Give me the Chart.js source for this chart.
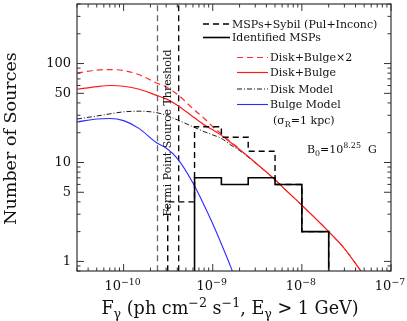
<!DOCTYPE html>
<html>
<head>
<meta charset="utf-8">
<script src="https://cdn.jsdelivr.net/npm/chart.js@4.4.0/dist/chart.umd.min.js"></script>
<style>
  html, body { margin: 0; padding: 0; background: #fff; }
  canvas { display: block; }
</style>
</head>
<body>
<canvas id="fluxChart" width="407" height="321"></canvas>
<script>
const fluxModel = [3e-11, 5e-11, 7e-11, 1e-10, 1.5e-10, 2.3e-10, 3e-10, 4e-10, 6e-10, 8e-10, 1e-9,
  1.25e-9, 1.6e-9, 2e-9, 3e-9, 5e-9, 7e-9, 1e-8, 2e-8, 3e-8, 4.5e-8, 6e-8];
const diskBulge2 = [80, 86, 87, 85, 77, 64, 58, 49, 35, 28, 23, 19.5, 16, 13.8,
  null, null, null, null, null, null, null, null];
const diskBulge = [55, 58.5, 60, 59, 55, 48, 44, 38, 29, 24, 21.4, 18.8, 15.8, 13.5, 10, 6.7, 5, 3.7, 2.0, 1.35, 0.82, 0.55];
const diskModel = [27.5, 29.5, 31, 32.5, 33, 32, 30, 27, 23, 20.5, 19, 17.5, 15, 13.2, 9.9, 6.7, 5, 3.7, 2.0, 1.35, 0.82, 0.55];
const bulgeModel = [25.7, 27.5, 27.8, 26.5, 22, 16, 14, 11, 6.2, 3.7, 2.4, 1.5, 0.87, 0.5,
  null, null, null, null, null, null, null, null];

// histograms
const binEdges = [3.125e-10, 6.25e-10, 1.25e-9, 2.5e-9, 5e-9, 1e-8, 2e-8];
const sybilCounts = [4, 23, 18, 13, 6, 2];
const identifiedCounts = [null, 7, 6, 7, 6, 2];

// threshold lines
const thresholdFlux = [2.4e-10, 4.15e-10];

// axes
const xTickExponents = [-10, -9, -8, -7];
const yTickValues = [1, 5, 10, 50, 100];

const FONT = '"DejaVu Serif", serif';
const floorY = 0.5;

function curve(vals) {
  return fluxModel.map((f, i) => ({ x: f, y: vals[i] }));
}

function stepData(edges, counts) {
  const pts = [];
  counts.forEach((c, i) => {
    if (c == null) return;
    if (!pts.length) pts.push({ x: edges[i], y: floorY });
    pts.push({ x: edges[i], y: c });
  });
  pts.push({ x: edges[edges.length - 1], y: floorY });
  return pts;
}

function vline(f) {
  return [{ x: f, y: floorY }, { x: f, y: 1000 }];
}

// text with super/subscripts: parts = [[text, mode]], mode 1 = sup, -1 = sub
function richText(ctx, parts, x, y, size, align) {
  const sz = m => (m ? size * 0.72 : size);
  let w = 0;
  parts.forEach(([t, m]) => {
    ctx.font = sz(m) + 'px ' + FONT;
    w += ctx.measureText(t).width;
  });
  let cx = align === 'center' ? x - w / 2 : align === 'right' ? x - w : x;
  ctx.textAlign = 'left';
  ctx.textBaseline = 'alphabetic';
  parts.forEach(([t, m]) => {
    ctx.font = sz(m) + 'px ' + FONT;
    const dy = m > 0 ? -size * 0.42 : m < 0 ? size * 0.25 : 0;
    ctx.fillText(t, cx, y + dy);
    cx += ctx.measureText(t).width;
  });
}

const decor = {
  id: 'decor',
  afterDraw(chart) {
    const { ctx, chartArea: a, scales: { x, y } } = chart;
    ctx.save();
    ctx.strokeStyle = '#333';
    ctx.fillStyle = '#111';
    ctx.lineWidth = 1.2;
    ctx.setLineDash([]);
    ctx.strokeRect(a.left, a.top, a.right - a.left, a.bottom - a.top);

    const seg = (x0, y0, x1, y1) => { ctx.beginPath(); ctx.moveTo(x0, y0); ctx.lineTo(x1, y1); ctx.stroke(); };
    ctx.lineWidth = 1;
    // x ticks, bottom and top
    for (let e = -11; e <= -7; e++) {
      for (let m = 1; m <= 9; m++) {
        const v = m * Math.pow(10, e);
        if (v < x.min * 0.999 || v > x.max * 1.001) continue;
        const px = x.getPixelForValue(v);
        const len = m === 1 ? 7 : 3.5;
        seg(px, a.bottom, px, a.bottom - len);
        seg(px, a.top, px, a.top + len);
      }
    }
    // y ticks, left and right
    for (let e = -1; e <= 2; e++) {
      for (let m = 1; m <= 9; m++) {
        const v = m * Math.pow(10, e);
        if (v < y.min || v > y.max) continue;
        const py = y.getPixelForValue(v);
        const len = (m === 1 || m === 5) ? 7 : 3.5;
        seg(a.left, py, a.left + len, py);
        seg(a.right, py, a.right - len, py);
      }
    }

    // tick labels
    xTickExponents.forEach(e => {
      const px = x.getPixelForValue(Math.pow(10, e));
      richText(ctx, [['10', 0], ['\u2212' + Math.abs(e), 1]], px - 1, a.bottom + 19, 13, 'center');
    });
    ctx.font = '13px ' + FONT;
    ctx.textAlign = 'right';
    ctx.textBaseline = 'middle';
    yTickValues.forEach(v => ctx.fillText(String(v), a.left - 6, y.getPixelForValue(v)));

    // axis titles
    richText(ctx, [['F', 0], ['\u03b3', -1], [' (ph cm', 0], ['\u22122', 1], [' s', 0], ['\u22121', 1],
      [', E', 0], ['\u03b3', -1], [' > 1 GeV)', 0]], 230, 314, 17.6, 'center');
    ctx.save();
    ctx.translate(16, (a.top + a.bottom) / 2 + 1);
    ctx.rotate(-Math.PI / 2);
    ctx.font = '17.5px ' + FONT;
    ctx.textAlign = 'center';
    ctx.textBaseline = 'alphabetic';
    ctx.fillText('Number of Sources', 0, 0);
    ctx.restore();

    // threshold label
    ctx.save();
    ctx.translate(168.5, 133);
    ctx.rotate(-Math.PI / 2);
    ctx.font = '11px ' + FONT;
    ctx.textAlign = 'center';
    ctx.textBaseline = 'middle';
    ctx.fillText('Fermi Point Source Threshold', 0, 0);
    ctx.restore();

    // legend
    const rows = [
      { ds: 1, x0: 203, x1: 230, y: 24 },
      { ds: 0, x0: 203, x1: 230, y: 37.5 },
      { ds: 2, x0: 237, x1: 268, y: 57.5 },
      { ds: 3, x0: 237, x1: 268, y: 72.5 },
      { ds: 4, x0: 237, x1: 268, y: 89 },
      { ds: 5, x0: 237, x1: 268, y: 104.5 }
    ];
    rows.forEach(r => {
      const d = chart.data.datasets[r.ds];
      ctx.strokeStyle = d.borderColor;
      ctx.lineWidth = d.borderWidth;
      ctx.setLineDash(d.borderDash || []);
      seg(r.x0, r.y, r.x1, r.y);
      ctx.setLineDash([]);
      ctx.font = '11px ' + FONT;
      ctx.textAlign = 'left';
      ctx.textBaseline = 'middle';
      ctx.fillText(d.label, r.x1 + 2, r.y + 1);
    });
    richText(ctx, [['(\u03c3', 0], ['R', -1], ['=1 kpc)', 0]], 273, 124, 11, 'left');
    richText(ctx, [['B', 0], ['0', -1], ['=10', 0], ['8.25', 1], ['  G', 0]], 307, 153, 11, 'left');
    ctx.restore();
  }
};

new Chart(document.getElementById('fluxChart'), {
  type: 'scatter',
  data: {
    datasets: [
      {
        label: 'Identified MSPs',
        data: stepData(binEdges, identifiedCounts),
        showLine: true, stepped: 'before',
        borderColor: '#000', borderWidth: 1.6, pointRadius: 0
      },
      {
        label: 'MSPs+Sybil (Pul+Inconc)',
        data: stepData(binEdges, sybilCounts),
        showLine: true, stepped: 'before',
        borderColor: '#000', borderWidth: 1.4, borderDash: [6, 4], pointRadius: 0
      },
      {
        label: 'Disk+Bulge\u00d72',
        data: curve(diskBulge2),
        showLine: true, cubicInterpolationMode: 'monotone',
        borderColor: '#ff2a2a', borderWidth: 1.2, borderDash: [6, 4], pointRadius: 0
      },
      {
        label: 'Disk+Bulge',
        data: curve(diskBulge),
        showLine: true, cubicInterpolationMode: 'monotone',
        borderColor: '#ff1a1a', borderWidth: 1.2, pointRadius: 0
      },
      {
        label: 'Disk Model',
        data: curve(diskModel),
        showLine: true, cubicInterpolationMode: 'monotone',
        borderColor: '#000', borderWidth: 0.9, borderDash: [5, 2, 1, 2], pointRadius: 0
      },
      {
        label: 'Bulge Model',
        data: curve(bulgeModel),
        showLine: true, cubicInterpolationMode: 'monotone',
        borderColor: '#2a2aff', borderWidth: 1.1, pointRadius: 0
      },
      {
        label: 'threshold a',
        data: vline(thresholdFlux[0]),
        showLine: true, borderColor: '#666', borderWidth: 1.3, borderDash: [6, 4], pointRadius: 0
      },
      {
        label: 'threshold b',
        data: vline(thresholdFlux[1]),
        showLine: true, borderColor: '#000', borderWidth: 1.3, borderDash: [6, 4], pointRadius: 0
      }
    ]
  },
  options: {
    responsive: false,
    animation: false,
    layout: { padding: { top: 4, right: 16, bottom: 0, left: 0 } },
    plugins: { legend: { display: false }, tooltip: { enabled: false } },
    scales: {
      x: {
        type: 'logarithmic', min: 3e-11, max: 1e-7,
        grid: { display: false }, border: { display: false },
        ticks: { display: false },
        afterFit: s => { s.height = 50; }
      },
      y: {
        type: 'logarithmic', min: 0.8, max: 400,
        grid: { display: false }, border: { display: false },
        ticks: { display: false },
        afterFit: s => { s.width = 77; }
      }
    }
  },
  plugins: [decor]
});
</script>
</body>
</html>
